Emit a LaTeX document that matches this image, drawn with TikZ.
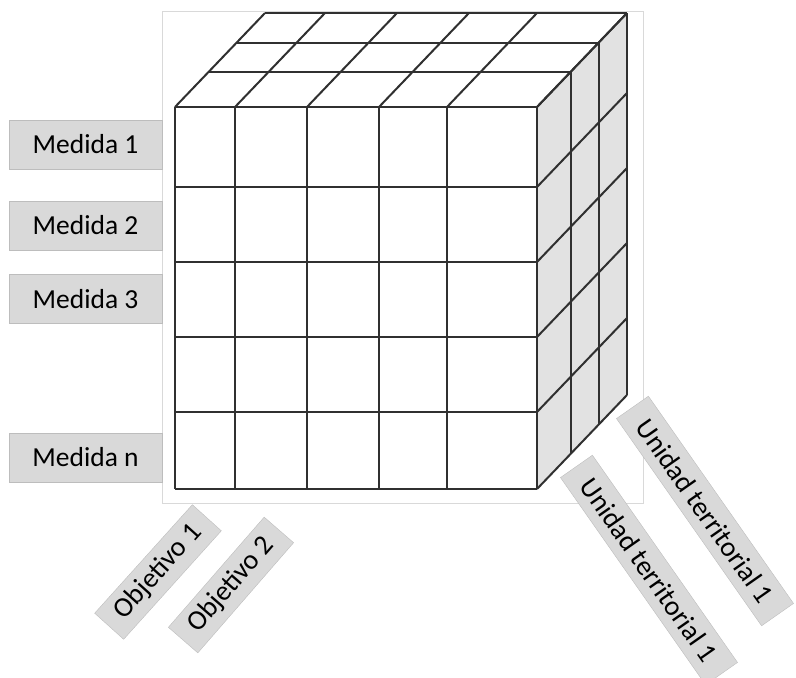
\documentclass[tikz,border=0pt]{standalone}
\usepackage{fontspec}
\setmainfont{Carlito}
\usepackage{tikz}
\usepackage{xcolor}
\usetikzlibrary{calc}
\definecolor{CubeLine}{HTML}{303030}
\definecolor{SideGray}{HTML}{E2E2E2}
\definecolor{TagFill}{HTML}{D9D9D9}
\definecolor{TagLine}{HTML}{BDBDBD}

\begin{document}
\begin{tikzpicture}[x=1pt,y=-1pt,
    cubeline/.style={line width=2pt, CubeLine},
    tag/.style={draw=TagLine, fill=TagFill, inner sep=0pt, minimum height=49pt,
        minimum width=153pt, font=\fontsize{27.5}{32}\selectfont},
    slanttag/.style={tag, minimum height=39pt, font=\fontsize{28}{32}\selectfont}]

    \useasboundingbox (0,0) rectangle (796,678);

    % === Frame behind the cube ===
    \draw[gray!30, line width=0.6pt] (162,11) rectangle (643,503);

    % === Right face (shaded) ===
    \fill[SideGray] (537,107) -- (627,13) -- (627,395) -- (537,489) -- cycle;

    % === Front face grid ===
    \foreach \x in {175,235,307,379,447,537}
        \draw[cubeline] (\x,107) -- (\x,489);
    \foreach \y in {107,187,262,337,412,489}
        \draw[cubeline] (175,\y) -- (537,\y);

    % === Top face ===
    \foreach \x in {175,235,307,379,447,537}
        \draw[cubeline] (\x,107) -- ++(90,-94);
    \foreach \dx/\dy in {34/-35,62/-64,90/-94}
        \draw[cubeline] (175+\dx,107+\dy) -- (537+\dx,107+\dy);

    % === Right face grid ===
    \foreach \y in {107,187,262,337,412,489}
        \draw[cubeline] (537,\y) -- ++(90,-94);
    \foreach \dx/\dy in {34/-35,62/-64,90/-94}
        \draw[cubeline] (537+\dx,107+\dy) -- (537+\dx,489+\dy);

    % === Measures (rows) ===
    \node[tag] (med1) at (85.5,144.5) {Medida 1};
    \node[tag] (med2) at (85.5,225.5) {Medida 2};
    \node[tag] (med3) at (85.5,299) {Medida 3};
    \node[tag] (medn) at (85.5,457.5) {Medida n};

    % === Objectives (columns) ===
    \node[slanttag, minimum width=146pt, rotate=48] (obj1) at (158,572) {Objetivo 1};
    \node[slanttag, minimum width=146pt, rotate=49] (obj2) at (231,585) {Objetivo 2};

    % === Territorial units (depth) ===
    \node[slanttag, minimum width=253pt, rotate=-55] (uni1) at (649,570) {Unidad territorial 1};
    \node[slanttag, minimum width=253pt, rotate=-55] (uni2) at (705,511) {Unidad territorial 1};

\end{tikzpicture}
\end{document}
